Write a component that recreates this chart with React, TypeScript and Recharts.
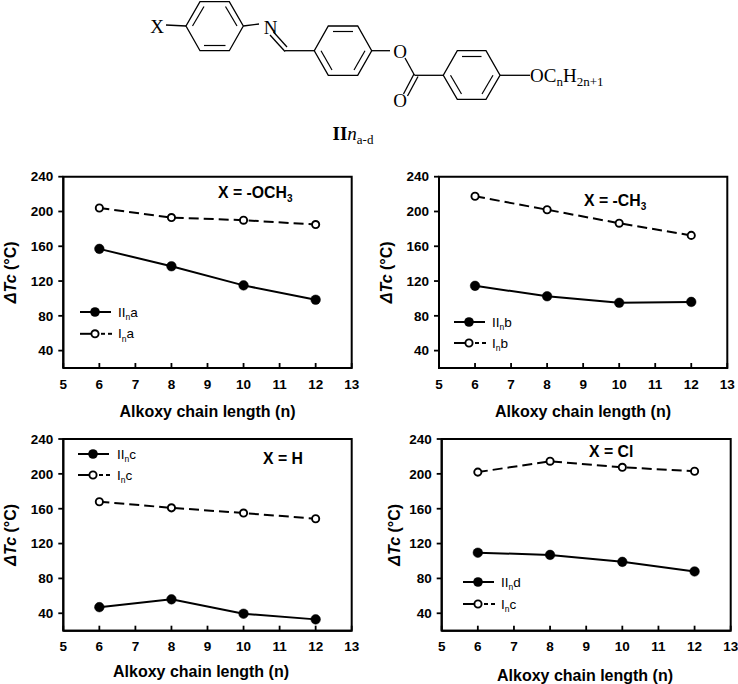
import React from 'react';
import { LineChart, Line, XAxis, YAxis, Legend, ReferenceArea } from 'recharts';

const chainLengths = [6, 8, 10, 12];
const xTicks = [5, 6, 7, 8, 9, 10, 11, 12, 13];
const yTicks = [40, 80, 120, 160, 200, 240];

const filledA = [157, 137, 115, 98.5];
const openA = [204, 193, 190, 185];
const filledB = [114.5, 102.5, 95, 96];
const openB = [217.5, 202, 186.5, 172.5];
const filledC = [47, 56, 39.5, 33];
const openC = [168, 161, 155, 148.5];
const filledD = [109.5, 107, 99, 88];
const openD = [202, 214.5, 207.5, 203];

const FONT = '"Liberation Sans", Arial, sans-serif';
const SERIF = '"Liberation Serif", "Times New Roman", serif';
const INK = '#000';

const toRows = (filled: number[], open: number[]) =>
  chainLengths.map((n, i) => ({ n, filled: filled[i], open: open[i] }));

type PanelProps = {
  box: { left: number; top: number; width: number; height: number };
  plot: { left: number; right: number; top: number; bottom: number };
  filled: number[];
  open: number[];
  legendNames: [string, string];
  legendAt: { x: number; y1: number; y2: number; tx: number };
  note: string;
  noteSub?: string;
  noteAt: { x: number; y: number };
  yTitleX: number;
  xTitleAt: { x: number; y: number };
};

function LegendRow({ y, base, suffix, open, tx }: { y: number; base: string; suffix: string; open: boolean; tx: number }) {
  return (
    <g>
      {open ? (
        <g>
          <line x1={0} x2={12} y1={y} y2={y} stroke={INK} strokeWidth={2} />
          <line x1={21} x2={25} y1={y} y2={y} stroke={INK} strokeWidth={2} />
          <line x1={28} x2={32} y1={y} y2={y} stroke={INK} strokeWidth={2} />
          <circle cx={15} cy={y} r={3.6} fill="#fff" stroke={INK} strokeWidth={1.9} />
        </g>
      ) : (
        <g>
          <line x1={0} x2={31} y1={y} y2={y} stroke={INK} strokeWidth={2} />
          <circle cx={15} cy={y} r={4.8} fill={INK} />
        </g>
      )}
      <text x={tx} y={y + 4.5} fontFamily={FONT} fontSize={13.5} fill={INK}>
        {base}
        <tspan fontSize={8.5} dy={3.5}>n</tspan>
        <tspan dy={-3.5}>{suffix}</tspan>
      </text>
    </g>
  );
}

function Panel({ box, plot, filled, open, legendNames, legendAt, note, noteSub, noteAt, yTitleX, xTitleAt }: PanelProps) {
  const rows = toRows(filled, open);
  const yMid = (plot.top + plot.bottom) / 2 - box.top;
  const gap = legendAt.y2 - legendAt.y1;
  const renderLegend = () => (
    <svg width={130} height={gap + 16} style={{ display: 'block', overflow: 'visible' }}>
      <LegendRow y={8} base="II" suffix={legendNames[0]} open={false} tx={legendAt.tx - legendAt.x} />
      <LegendRow y={8 + gap} base="I" suffix={legendNames[1]} open tx={legendAt.tx - legendAt.x} />
    </svg>
  );
  return (
    <div style={{ position: 'absolute', left: box.left, top: box.top, width: box.width, height: box.height }}>
      <LineChart
        width={box.width}
        height={box.height}
        data={rows}
        margin={{ left: 0, top: plot.top - box.top, right: box.left + box.width - plot.right, bottom: 0 }}
      >
        <XAxis
          dataKey="n"
          type="number"
          domain={[5, 13]}
          ticks={xTicks}
          interval={0}
          height={box.top + box.height - plot.bottom}
          tickSize={-5}
          tickMargin={16}
          axisLine={{ stroke: INK, strokeWidth: 2 }}
          tickLine={{ stroke: INK, strokeWidth: 1.8 }}
          tick={{ fill: INK, fontFamily: FONT, fontSize: 13.5, fontWeight: 700 }}
        />
        <YAxis
          type="number"
          domain={[20, 240]}
          ticks={yTicks}
          interval={0}
          width={plot.left - box.left}
          tickSize={5}
          tickMargin={5}
          axisLine={{ stroke: INK, strokeWidth: 2 }}
          tickLine={{ stroke: INK, strokeWidth: 1.8 }}
          tick={{ fill: INK, fontFamily: FONT, fontSize: 13.5, fontWeight: 700 }}
        />
        <ReferenceArea x1={5} x2={13} y1={20} y2={240} fill="none" stroke={INK} strokeWidth={2} />
        <Line
          dataKey="filled"
          name={`IIn${legendNames[0]}`}
          stroke={INK}
          strokeWidth={2}
          isAnimationActive={false}
          dot={{ r: 4.8, fill: INK, stroke: INK, strokeWidth: 0.5 }}
        />
        <Line
          dataKey="open"
          name={`In${legendNames[1]}`}
          stroke={INK}
          strokeWidth={2}
          strokeDasharray="10 5"
          isAnimationActive={false}
          dot={{ r: 3.6, fill: '#fff', stroke: INK, strokeWidth: 1.9, strokeDasharray: '0' }}
        />
        <Legend
          layout="horizontal"
          verticalAlign="middle"
          align="center"
          content={renderLegend}
          wrapperStyle={{ left: legendAt.x - box.left, top: legendAt.y1 - box.top - 8, width: 130, margin: 0 }}
        />
        <text x={noteAt.x - box.left} y={noteAt.y - box.top} fontFamily={FONT} fontSize={15.8} fontWeight={700} fill={INK}>
          {note}
          {noteSub ? <tspan fontSize={10} dy={4}>{noteSub}</tspan> : null}
        </text>
        <text
          x={0}
          y={0}
          transform={`translate(${yTitleX - box.left},${yMid}) rotate(-90)`}
          textAnchor="middle"
          fontFamily={FONT}
          fontSize={16}
          fontWeight={700}
          fill={INK}
        >
          <tspan fontStyle="italic">ΔTc</tspan>
          <tspan> (°C)</tspan>
        </text>
        <text
          x={xTitleAt.x - box.left}
          y={xTitleAt.y - box.top}
          textAnchor="middle"
          fontFamily={FONT}
          fontSize={16}
          fontWeight={700}
          fill={INK}
        >
          Alkoxy chain length (n)
        </text>
      </LineChart>
    </div>
  );
}

const ring = (pts: number[][], inner: number[][][]) => (
  <g>
    <polygon points={pts.map((p) => p.join(',')).join(' ')} fill="none" stroke={INK} strokeWidth={1.3} />
    {inner.map((l, i) => (
      <line key={i} x1={l[0][0]} y1={l[0][1]} x2={l[1][0]} y2={l[1][1]} stroke={INK} strokeWidth={1.2} />
    ))}
  </g>
);

function Structure() {
  const L = (x1: number, y1: number, x2: number, y2: number) => (
    <line x1={x1} y1={y1} x2={x2} y2={y2} stroke={INK} strokeWidth={1.3} />
  );
  const t = { fontFamily: SERIF, fontSize: 19, fill: INK };
  return (
    <svg width={738} height={160} style={{ position: 'absolute', left: 0, top: 0 }}>
      {ring(
        [[200, 1.7], [229.3, 1.7], [243.3, 26], [229.3, 50.7], [200, 50.7], [186, 26]],
        [[[192.5, 26], [204, 6.5]], [[225.5, 6.5], [237, 26]], [[204, 45.5], [225.5, 45.5]]]
      )}
      {ring(
        [[328.3, 26], [357.7, 26], [371.7, 50.7], [357.7, 75.3], [328.3, 75.3], [314.3, 50.7]],
        [[[333, 31.5], [353, 31.5]], [[365, 50.7], [354, 70]], [[321, 50.7], [332, 70]]]
      )}
      {ring(
        [[457.3, 50.7], [486, 50.7], [500, 75.3], [486, 99.3], [457.3, 99.3], [443.3, 75.3]],
        [[[462, 56.5], [481.5, 56.5]], [[493, 75.3], [482, 94]], [[450.5, 75.3], [461.5, 94]]]
      )}
      {L(166, 25, 186, 26)}
      {L(243.3, 26, 259, 24)}
      {L(270, 35, 285, 51.5)}
      {L(273.5, 32, 287, 47)}
      {L(285, 50.7, 314.3, 50.7)}
      {L(371.7, 50.7, 390, 50.7)}
      {L(405, 58, 414.5, 75.3)}
      {L(414.5, 75.3, 443.3, 75.3)}
      {L(414, 74, 403.5, 94)}
      {L(418, 76.5, 407.5, 96)}
      <text x={157} y={33} textAnchor="middle" {...t}>X</text>
      <text x={270.5} y={33.5} textAnchor="middle" {...t}>N</text>
      <text x={400} y={58} textAnchor="middle" {...t}>O</text>
      <text x={400} y={107} textAnchor="middle" {...t}>O</text>
      {L(500, 75.3, 530, 75.3)}
      <text x={530} y={81.5} {...t}>
        OC<tspan fontSize={13} dy={4}>n</tspan>
        <tspan dy={-4}>H</tspan>
        <tspan fontSize={13} dy={4}>2n+1</tspan>
      </text>
      <text x={332.5} y={140} {...t}>
        <tspan fontWeight={700}>II</tspan>
        <tspan fontStyle="italic">n</tspan>
        <tspan fontSize={13} dy={4}>a-d</tspan>
      </text>
    </svg>
  );
}

export default function App() {
  return (
    <div style={{ position: 'absolute', left: 0, top: 0, width: 738, height: 684, background: '#fff', overflow: 'hidden' }}>
      <Structure />
      <Panel
        box={{ left: 0, top: 160, width: 369, height: 265 }}
        plot={{ left: 63.3, right: 351.7, top: 176.7, bottom: 368 }}
        filled={filledA}
        open={openA}
        legendNames={['a', 'a']}
        legendAt={{ x: 80, y1: 311.7, y2: 333.5, tx: 118 }}
        note="X = -OCH"
        noteSub="3"
        noteAt={{ x: 218, y: 198 }}
        yTitleX={16}
        xTitleAt={{ x: 207.5, y: 416.5 }}
      />
      <Panel
        box={{ left: 369, top: 160, width: 369, height: 265 }}
        plot={{ left: 439, right: 727.3, top: 176.7, bottom: 368 }}
        filled={filledB}
        open={openB}
        legendNames={['b', 'b']}
        legendAt={{ x: 454, y1: 322, y2: 343, tx: 492 }}
        note="X = -CH"
        noteSub="3"
        noteAt={{ x: 584, y: 205.7 }}
        yTitleX={392}
        xTitleAt={{ x: 583, y: 416.5 }}
      />
      <Panel
        box={{ left: 0, top: 425, width: 369, height: 259 }}
        plot={{ left: 63.3, right: 351.7, top: 439, bottom: 630.7 }}
        filled={filledC}
        open={openC}
        legendNames={['c', 'c']}
        legendAt={{ x: 78, y1: 454, y2: 475, tx: 117 }}
        note="X = H"
        noteAt={{ x: 263, y: 464 }}
        yTitleX={16}
        xTitleAt={{ x: 201, y: 676.5 }}
      />
      <Panel
        box={{ left: 369, top: 425, width: 369, height: 259 }}
        plot={{ left: 441.7, right: 730.7, top: 439, bottom: 630.7 }}
        filled={filledD}
        open={openD}
        legendNames={['d', 'c']}
        legendAt={{ x: 463, y1: 582, y2: 604, tx: 501 }}
        note="X = Cl"
        noteAt={{ x: 589, y: 457 }}
        yTitleX={399.5}
        xTitleAt={{ x: 585, y: 680.5 }}
      />
    </div>
  );
}
